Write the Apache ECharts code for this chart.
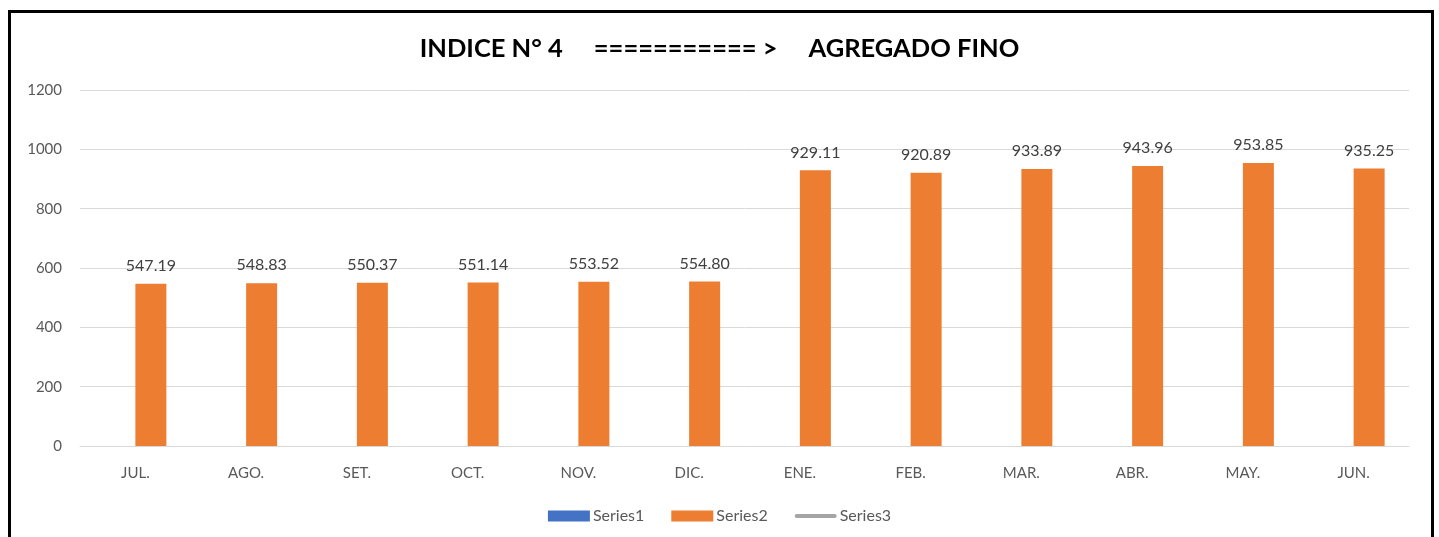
<!DOCTYPE html>
<html>
<head>
<meta charset="utf-8">
<script src="https://cdn.jsdelivr.net/npm/echarts@6/dist/echarts.min.js"></script>
<style>
  html, body { margin: 0; padding: 0; background: #fff; }
  #frame {
    position: absolute; left: 8px; top: 10px;
    width: 1420px; height: 600px;
    border: 3px solid #000;
  }
  #chart { position: absolute; left: 0; top: 0; width: 1439px; height: 537px; }
</style>
</head>
<body>
<div id="frame"></div>
<div id="chart"></div>
<script>
// datos
var meses = ['JUL.', 'AGO.', 'SET.', 'OCT.', 'NOV.', 'DIC.', 'ENE.', 'FEB.', 'MAR.', 'ABR.', 'MAY.', 'JUN.'];
var series1 = [0, 0, 0, 0, 0, 0, 0, 0, 0, 0, 0, 0];
var series2 = [547.19, 548.83, 550.37, 551.14, 553.52, 554.80, 929.11, 920.89, 933.89, 943.96, 953.85, 935.25];
var series3 = [];

var chart = echarts.init(document.getElementById('chart'));

chart.setOption({
  animation: false,
  title: {
    text: 'INDICE N° 4     =========== >     AGREGADO FINO',
    left: 'center',
    top: 31,
    textStyle: {
      fontFamily: 'Lato',
      fontWeight: 'bold',
      fontSize: 25.5,
      color: '#000'
    }
  },
  legend: {
    bottom: 8,
    left: 'center',
    itemWidth: 42,
    itemHeight: 11,
    itemGap: 27,
    textStyle: { fontFamily: 'Lato', fontSize: 16, color: '#595959', padding: [0, 0, 0, -2] },
    data: [
      { name: 'Series1', icon: 'rect' },
      { name: 'Series2', icon: 'rect' },
      { name: 'Series3', icon: 'path://M2,0 L42,0 A2,2 0 0 1 42,4 L2,4 A2,2 0 0 1 2,0 Z' }
    ]
  },
  grid: {
    left: 80,
    right: 30,
    top: 90,
    bottom: 91
  },
  xAxis: {
    type: 'category',
    data: meses,
    axisLine: { lineStyle: { color: '#d9d9d9', width: 1 } },
    axisTick: { show: false },
    axisLabel: {
      fontFamily: 'Lato',
      fontSize: 15,
      color: '#595959',
      margin: 20
    }
  },
  yAxis: {
    type: 'value',
    min: 0,
    max: 1200,
    interval: 200,
    axisLine: { show: false },
    axisTick: { show: false },
    splitLine: { lineStyle: { color: '#d9d9d9' } },
    axisLabel: {
      fontFamily: 'Lato',
      fontSize: 15,
      color: '#595959',
      margin: 18,
      formatter: function (v) { return String(v); }
    }
  },
  series: [{
    name: 'Series1',
    type: 'bar',
    barWidth: 31,
    barGap: '0%',
    itemStyle: { color: '#4472c4' },
    data: series1
  }, {
    name: 'Series2',
    type: 'bar',
    barWidth: 31,
    barGap: '0%',
    itemStyle: { color: '#ed7d31' },
    label: {
      show: true,
      position: 'top',
      distance: 10,
      fontFamily: 'Lato',
      fontSize: 16,
      color: '#404040',
      formatter: function (p) { return p.value.toFixed(2); }
    },
    data: series2
  }, {
    name: 'Series3',
    type: 'line',
    itemStyle: { color: '#a5a5a5' },
    lineStyle: { color: '#a5a5a5', width: 3 },
    data: series3
  }]
});
</script>
</body>
</html>
